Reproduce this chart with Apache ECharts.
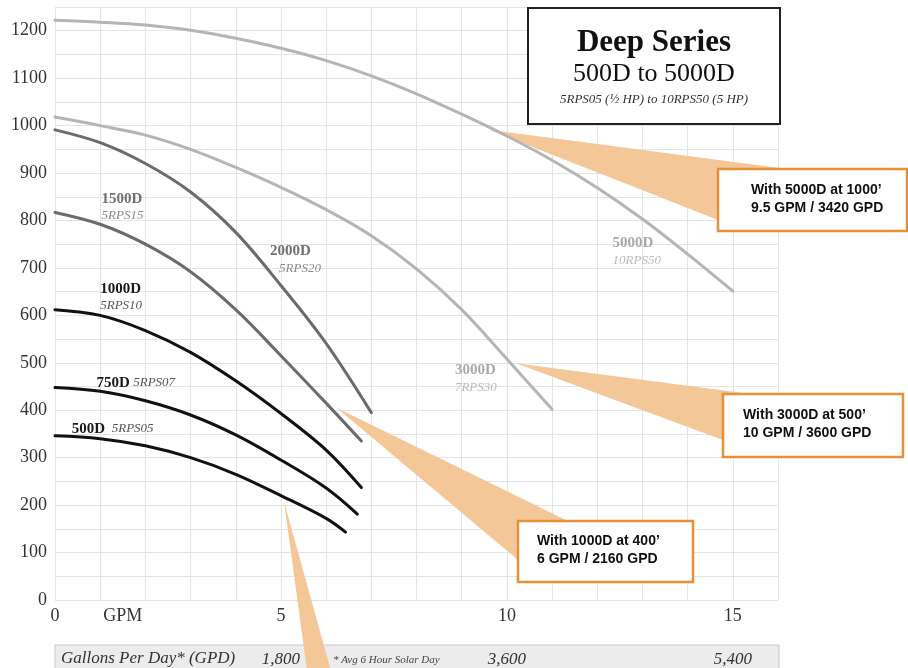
<!DOCTYPE html>
<html><head><meta charset="utf-8">
<script src="https://cdn.jsdelivr.net/npm/echarts@6/dist/echarts.min.js"></script>
<style>html,body{margin:0;padding:0;background:#fff}#c{width:908px;height:668px}</style>
</head><body><div id="c"></div>
<script>
// ---- tick labels ----
const xTickValues = [0, 1.5, 5, 10, 15];
const xTickLabels = ['0', 'GPM', '5', '10', '15'];
const gpdTickValues = [5, 10, 15];
const gpdTickLabels = ['1,800', '3,600', '5,400'];
const yTickValues = [0, 100, 200, 300, 400, 500, 600, 700, 800, 900, 1000, 1100, 1200];

// ---- pump curves: [GPM, head ft] ----
const curve500D  = [[0,346],[1,340],[2,325],[3,300],[4,265],[5,220],[6,172],[6.43,143]];
const curve750D  = [[0,448],[1,440],[2,420],[3,390],[4,348],[5,295],[6,236],[6.69,181]];
const curve1000D = [[0,612],[1,600],[2,568],[3,522],[4,462],[5,393],[6,316],[6.78,237]];
const curve1500D = [[0,817],[1,792],[2,750],[3,692],[4,612],[5,515],[6,415],[6.78,335]];
const curve2000D = [[0,991],[1,964],[2,920],[3,860],[4,775],[5,663],[6,541],[7,395]];
const curve3000D = [[0,1018],[1,1000],[2,980],[3,950],[4,912],[5,870],[6,823],[7,768],[8,698],[9,612],[10,508],[11,402]];
const curve5000D = [[0,1222],[1,1218],[2,1212],[3,1201],[4,1184],[5,1163],[6,1137],[7,1105],[8,1067],[9,1024],[10,978],[11,927],[12,869],[13,803],[14,729],[15,651]];

const seriesNames  = ['500D','750D','1000D','1500D','2000D','3000D','5000D'];
const seriesModels = ['5RPS05','5RPS07','5RPS10','5RPS15','5RPS20','7RPS30','10RPS50'];

// ---- callouts: operating points [GPM, head] ----
const calloutPoints = [[9.6, 991], [10.2, 499], [6.23, 405], [5.07, 207]];
const calloutTexts = [
  ['With 5000D at 1000\u2019', '9.5 GPM / 3420 GPD'],
  ['With 3000D at 500\u2019', '10 GPM / 3600 GPD'],
  ['With 1000D at 400\u2019', '6 GPM / 2160 GPD']
];

// ---- layout / style (not data) ----
const curves = [curve500D, curve750D, curve1000D, curve1500D, curve2000D, curve3000D, curve5000D];
const curveColors = ['#111','#111','#111','#6b6b6b','#6b6b6b','#b5b5b5','#b5b5b5'];
const nameColors  = ['#1a1a1a','#1a1a1a','#1a1a1a','#707070','#707070','#a9a9a9','#a9a9a9'];
const modelColors = ['#555','#555','#555','#8a8a8a','#8a8a8a','#bababa','#bababa'];
// label anchors in data coords (left, middle of first line)
const labelAnchors = [[0.37,361],[0.92,458],[1.0,656],[1.03,846],[4.76,735],[8.85,484],[12.34,752]];
const labelInline = [true, true, false, false, false, false, false];
const modelDx = [0,0,0,0,9,0,0];
// triangle base points in pixels
const triBases = [[[780,168],[718,220]], [[743,393],[723,440]], [[568,521],[518,560]], [[311,700],[339,700]]];
const boxes = [
  {x:718, y:169, w:189, h:62, tx:751, ty:190},
  {x:723, y:394, w:180, h:63, tx:743, ty:415},
  {x:518, y:521, w:175, h:61, tx:537, ty:541}
];
const PEACH = '#f4c799', ORANGE = '#e69138';
const SERIF = '"Liberation Serif", "DejaVu Serif", serif';
const SANS = '"Liberation Sans", Arial, sans-serif';

const chart = echarts.init(document.getElementById('c'), null, {renderer:'canvas'});

const series = [];
// callout triangles
series.push({
  type:'custom', coordinateSystem:'cartesian2d', clip:false, silent:true, z:1,
  data: calloutPoints,
  renderItem: function(params, api){
    const p = api.coord([api.value(0), api.value(1)]);
    const b = triBases[params.dataIndex];
    return {type:'polygon', shape:{points:[p, b[0], b[1]]}, style:{fill:PEACH, stroke:null}};
  }
});
curves.forEach((c, i) => {
  series.push({
    type:'line', data:c, smooth:0.35, showSymbol:false, silent:true, z:3,
    lineStyle:{color:curveColors[i], width:3, cap:'round'}
  });
});
// curve labels
series.push({
  type:'custom', coordinateSystem:'cartesian2d', clip:false, silent:true, z:4,
  data: labelAnchors,
  renderItem: function(params, api){
    const i = params.dataIndex;
    const p = api.coord([api.value(0), api.value(1)]);
    if (labelInline[i]) {
      return {type:'text', x:p[0], y:p[1], style:{
        text:'{b|' + seriesNames[i] + '}' + (i===0 ? '  ' : ' ') + '{i|' + seriesModels[i] + '}',
        verticalAlign:'middle', align:'left',
        rich:{
          b:{fontFamily:SERIF, fontWeight:'bold', fontSize:15, fill:nameColors[i]},
          i:{fontFamily:SERIF, fontStyle:'italic', fontSize:13, fill:modelColors[i]}
        }
      }};
    }
    return {type:'group', children:[
      {type:'text', x:p[0], y:p[1], style:{text:seriesNames[i], fontFamily:SERIF, fontWeight:'bold', fontSize:15, fill:nameColors[i], verticalAlign:'middle'}},
      {type:'text', x:p[0] + modelDx[i], y:p[1] + 17, style:{text:seriesModels[i], fontFamily:SERIF, fontStyle:'italic', fontSize:13, fill:modelColors[i], verticalAlign:'middle'}}
    ]};
  }
});

const graphics = [
  {type:'rect', z:0, shape:{x:55, y:645, width:724, height:40}, style:{fill:'#ececec', stroke:'#c9c9c9', lineWidth:1}},
  {type:'text', z:0, x:61, y:659, style:{text:'Gallons Per Day* (GPD)', fontFamily:SERIF, fontStyle:'italic', fontSize:17, fill:'#333', verticalAlign:'middle'}},
  {type:'text', z:0, x:333, y:660, style:{text:'* Avg 6 Hour Solar Day', fontFamily:SERIF, fontStyle:'italic', fontSize:11, fill:'#444', verticalAlign:'middle'}},
  {type:'rect', z:100, shape:{x:528, y:8, width:252, height:116}, style:{fill:'#fff', stroke:'#222', lineWidth:2}},
  {type:'text', z:101, x:654, y:43, style:{text:'Deep Series', fontFamily:SERIF, fontWeight:'bold', fontSize:31, fill:'#111', align:'center', verticalAlign:'middle'}},
  {type:'text', z:101, x:654, y:74, style:{text:'500D to 5000D', fontFamily:SERIF, fontSize:26, fill:'#111', align:'center', verticalAlign:'middle'}},
  {type:'text', z:101, x:654, y:100, style:{text:'5RPS05 (\u00BD HP) to 10RPS50 (5 HP)', fontFamily:SERIF, fontStyle:'italic', fontSize:13, fill:'#333', align:'center', verticalAlign:'middle'}}
];
boxes.forEach((b, i) => {
  graphics.push({type:'rect', z:100, shape:{x:b.x, y:b.y, width:b.w, height:b.h}, style:{fill:'#fff', stroke:ORANGE, lineWidth:2.5}});
  graphics.push({type:'text', z:101, x:b.tx, y:b.ty, style:{text:calloutTexts[i][0], fontFamily:SANS, fontWeight:'bold', fontSize:14, fill:'#111', verticalAlign:'middle'}});
  graphics.push({type:'text', z:101, x:b.tx, y:b.ty + 18, style:{text:calloutTexts[i][1], fontFamily:SANS, fontWeight:'bold', fontSize:14, fill:'#111', verticalAlign:'middle'}});
});

chart.setOption({
  animation:false,
  backgroundColor:'#fff',
  grid:{left:55, right:130, top:7, bottom:68, containLabel:false},
  xAxis:[{
    type:'value', min:0, max:16, interval:1,
    axisLine:{show:false}, axisTick:{show:false},
    splitLine:{show:true, lineStyle:{color:'#e4e4e4', width:1}},
    axisLabel:{customValues:xTickValues, margin:7, fontFamily:SERIF, fontSize:18, color:'#333',
      formatter:v => { const k = xTickValues.indexOf(v); return k >= 0 ? xTickLabels[k] : ''; }}
  },{
    type:'value', min:0, max:16, position:'bottom', offset:43, gridIndex:0,
    axisLine:{show:false}, axisTick:{show:false}, splitLine:{show:false},
    axisLabel:{customValues:gpdTickValues, margin:8, fontFamily:SERIF, fontStyle:'italic', fontSize:17, color:'#333',
      formatter:v => { const k = gpdTickValues.indexOf(v); return k >= 0 ? gpdTickLabels[k] : ''; }}
  }],
  yAxis:{
    type:'value', min:0, max:1250, interval:50,
    axisLine:{show:false}, axisTick:{show:false},
    splitLine:{show:true, lineStyle:{color:'#e4e4e4', width:1}},
    axisLabel:{customValues:yTickValues, margin:8, fontFamily:SERIF, fontSize:18, color:'#333',
      formatter:v => (v % 100 === 0 && v <= 1200) ? String(v) : ''}
  },
  graphic:graphics,
  series:series
});
</script></body></html>
